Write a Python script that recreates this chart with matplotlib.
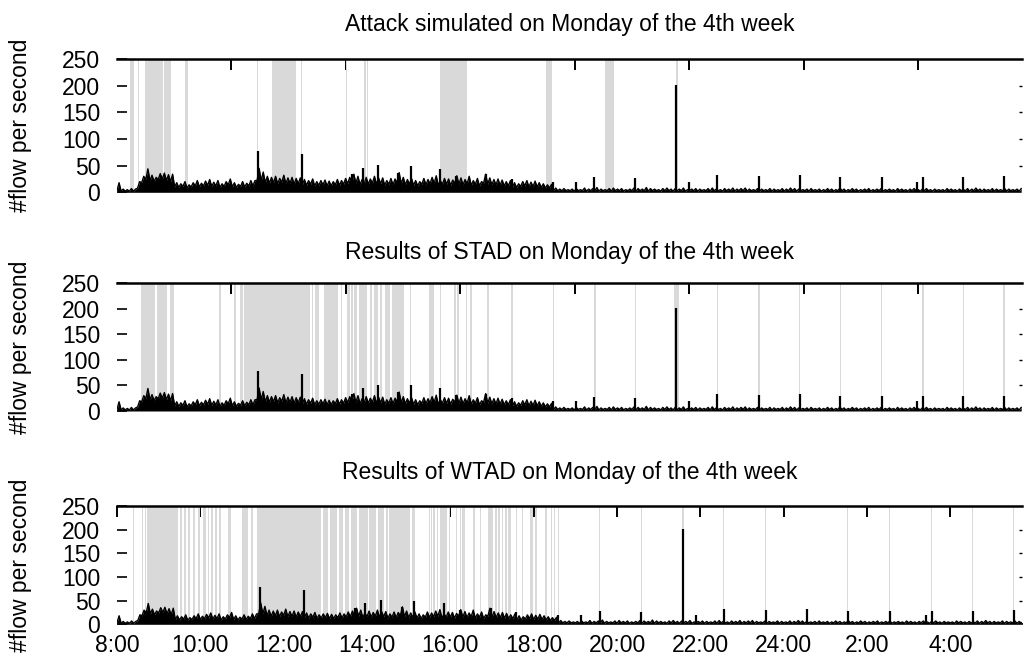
import numpy as np
import matplotlib.pyplot as plt

plt.rcParams['font.family'] = ['Liberation Sans', 'DejaVu Sans']

# flows per second, hours after 8:00, one bin every 6 minutes:
# flow_lo is the dense floor of each bin, flow_hi its highest value
bin_h = 0.1
flow_hi = [
    18, 6, 5, 7, 6, 20, 30, 44, 32, 28,
    35, 36, 33, 34, 18, 16, 20, 14, 18, 22,
    17, 21, 24, 19, 22, 16, 20, 25, 18, 15,
    20, 17, 22, 22, 45, 38, 30, 28, 30, 26,
    32, 27, 28, 26, 27, 24, 22, 25, 20, 22,
    23, 21, 20, 24, 22, 26, 28, 34, 30, 24,
    28, 25, 30, 27, 27, 22, 26, 25, 37, 28,
    24, 26, 22, 20, 26, 24, 28, 31, 22, 26,
    25, 23, 31, 27, 24, 30, 22, 26, 20, 34,
    27, 24, 25, 23, 20, 22, 18, 16, 20, 22,
    19, 21, 18, 16, 14, 15, 8, 6, 7, 5,
    6, 7, 5, 8, 6, 7, 9, 6, 5, 7,
    8, 6, 7, 5, 6, 8, 7, 6, 9, 7,
    6, 5, 7, 8, 6, 7, 6, 8, 5, 6,
    7, 6, 5, 7, 8, 6, 5, 7, 6, 8,
    6, 7, 8, 6, 5, 7, 6, 5, 7, 6,
    5, 7, 6, 8, 7, 6, 5, 6, 7, 5,
    6, 5, 7, 6, 5, 8, 6, 5, 7, 6,
    5, 6, 7, 5, 6, 7, 5, 6, 5, 7,
    6, 5, 6, 7, 5, 6, 7, 5, 6, 5,
    5, 7, 6, 5, 6, 5, 7, 6, 8, 6,
    6, 5, 7, 6, 5, 7, 6, 5, 6, 7,
]
flow_lo = [
    3, 2, 2, 2, 2, 8, 18, 24, 22, 20,
    24, 25, 22, 20, 10, 9, 11, 8, 10, 12,
    10, 12, 13, 11, 12, 9, 11, 14, 10, 9,
    11, 10, 12, 12, 22, 22, 18, 17, 18, 16,
    19, 16, 17, 15, 16, 14, 13, 15, 12, 13,
    14, 12, 12, 14, 13, 15, 16, 18, 17, 14,
    16, 15, 17, 15, 16, 13, 15, 14, 18, 16,
    14, 15, 13, 12, 15, 14, 16, 17, 13, 15,
    15, 13, 17, 15, 14, 16, 13, 15, 12, 17,
    15, 14, 14, 13, 12, 12, 10, 9, 11, 12,
    10, 11, 10, 9, 8, 8, 3, 3, 3, 3,
    3, 2, 3, 3, 2, 3, 3, 2, 3, 3,
    2, 3, 3, 2, 3, 3, 2, 3, 3, 2,
    3, 3, 2, 3, 3, 2, 3, 3, 2, 3,
    3, 2, 3, 3, 2, 3, 3, 2, 3, 3,
    2, 3, 3, 2, 3, 3, 2, 3, 3, 2,
    3, 3, 2, 3, 3, 2, 3, 3, 2, 3,
    3, 2, 3, 3, 2, 3, 3, 2, 3, 3,
    2, 3, 3, 2, 3, 3, 2, 3, 3, 2,
    3, 3, 2, 3, 3, 2, 3, 3, 2, 3,
    3, 2, 3, 3, 2, 3, 3, 2, 3, 3,
    2, 3, 3, 2, 3, 3, 2, 3, 3, 2,
]

spike_t = [3.42, 4.49, 5.71, 5.96, 6.33, 6.83, 7.14, 7.85, 8.23, 8.97,
           9.58, 10.59, 11.14, 11.58, 12.58, 13.58, 13.89, 14.57, 15.58,
           16.57, 17.55, 18.56, 19.42, 19.56, 20.54, 21.53]
spike_v = [78, 72, 34, 45, 51, 37, 50, 44, 31, 34,
           25, 20, 19, 28, 26, 201, 19, 33, 31,
           33, 29, 29, 19, 29, 29, 30]

# flagged periods (start, end) in hours after 8:00
attack_spans = [(0.32, 0.41), (0.50, 0.53), (0.68, 1.11), (1.13, 1.30), (1.65, 1.72),
                (3.40, 3.43), (3.76, 4.34), (4.46, 4.49), (5.56, 5.59), (6.00, 6.04),
                (6.06, 6.09), (7.84, 8.49), (10.41, 10.57), (11.84, 12.07), (13.58, 13.61)]
stad_spans = [(0.58, 0.92), (0.97, 1.21), (1.29, 1.38), (2.48, 2.52), (2.85, 2.88),
              (2.99, 3.05), (3.09, 4.68), (4.73, 4.76), (4.81, 4.91), (5.02, 5.37),
              (5.43, 5.47), (5.58, 5.66), (5.68, 5.72), (5.75, 5.82), (5.87, 6.08),
              (6.14, 6.20), (6.24, 6.34), (6.38, 6.44), (6.50, 6.63), (6.67, 6.97),
              (7.11, 7.14), (7.57, 7.69), (7.84, 7.86), (8.19, 8.23), (8.26, 8.31),
              (8.47, 8.50), (8.57, 8.62), (8.98, 9.02), (9.56, 9.62), (10.58, 10.62),
              (11.58, 11.62), (12.57, 12.61), (13.53, 13.64), (14.56, 14.60),
              (15.57, 15.61), (16.55, 16.59), (17.54, 17.58), (18.54, 18.58),
              (19.55, 19.59), (20.53, 20.57), (21.52, 21.56)]
wtad_spans = [(0.38, 0.41), (0.60, 0.63), (0.66, 0.70), (0.73, 1.46), (1.51, 1.56),
              (1.61, 1.66), (1.70, 1.75), (1.83, 1.86), (1.94, 1.99), (2.07, 2.14),
              (2.18, 2.22), (2.25, 2.30), (2.35, 2.39), (2.45, 2.50), (2.67, 2.73),
              (3.01, 3.15), (3.21, 3.26), (3.35, 4.89), (4.95, 5.07), (5.11, 5.27),
              (5.32, 5.43), (5.48, 5.57), (5.61, 5.75), (5.81, 6.02), (6.05, 6.22),
              (6.26, 6.41), (6.46, 6.50), (6.53, 7.03), (7.07, 7.15), (7.49, 7.51),
              (7.54, 7.56), (7.59, 7.64), (7.69, 7.71), (7.74, 7.91), (7.97, 7.99),
              (8.14, 8.17), (8.22, 8.26), (8.29, 8.34), (8.54, 8.60), (8.71, 8.74),
              (8.91, 9.03), (9.07, 9.11), (9.15, 9.19), (9.23, 9.27), (9.31, 9.36),
              (9.38, 9.45), (9.58, 9.61), (9.72, 9.75), (9.91, 9.98), (10.04, 10.07),
              (10.27, 10.32), (10.42, 10.45), (10.49, 10.52), (10.58, 10.60),
              (11.57, 11.59), (12.57, 12.60), (13.56, 13.61), (14.55, 14.57),
              (15.55, 15.57), (16.55, 16.57), (17.53, 17.55), (18.53, 18.55),
              (19.53, 19.55), (20.53, 20.55), (21.51, 21.53)]

titles = ['Attack simulated on Monday of the 4th week',
          'Results of STAD on Monday of the 4th week',
          'Results of WTAD on Monday of the 4th week']
hour_labels = ['8:00', '10:00', '12:00', '14:00', '16:00', '18:00',
               '20:00', '22:00', '24:00', '2:00', '4:00']
y_ticks = [0, 50, 100, 150, 200, 250]

# zigzag between floor and peak of each bin, filled down to zero
t = np.arange(len(flow_hi)) * bin_h
xs = np.column_stack([t, t + bin_h / 2]).ravel()
ys = np.column_stack([flow_lo, flow_hi]).ravel()

W, H = 1025, 658
fs = 16.5
fig = plt.figure(figsize=(W / 100, H / 100), dpi=100)

# (bottom px, top px, x max in hours)
panels = [(192.3, 59, 21.97), (411, 283, 21.97), (624.3, 506, 21.72)]
spans = [attack_spans, stad_spans, wtad_spans]
title_y = [24, 252, 472]

for k in range(3):
    bot, top, xmax = panels[k]
    ax = fig.add_axes([117 / W, 1 - bot / H, 905 / W, (bot - top) / H])
    for a, b in spans[k]:
        ax.axvspan(a, b, color='#d9d9d9', lw=0, zorder=1.7)
    ax.fill_between(xs, 0, ys, color='black', lw=0, zorder=3)
    ax.plot(xs, ys, color='black', lw=1.0, zorder=3)
    ax.vlines(spike_t, 0, spike_v, color='black', lw=1.6, zorder=3)
    ax.set_xlim(0, xmax)
    ax.set_ylim(0, 250)

    for s in ['left', 'right', 'bottom']:
        ax.spines[s].set_visible(False)
    ax.spines['top'].set_linewidth(1.8)
    ax.spines['top'].set_zorder(4)

    ax.set_yticks(y_ticks)
    ax.tick_params(axis='y', left=True, right=False, direction='in', length=7,
                   width=1.2, pad=12, labelsize=fs)
    sec = ax.secondary_yaxis('right')
    sec.set_yticks(y_ticks[1:-1])
    sec.tick_params(direction='in', length=2.5, width=1.0, labelright=False)
    sec.spines['right'].set_visible(False)

    if k < 2:
        # mirrored ticks every 10000 s
        ax.set_xticks(np.arange(10000, 80000, 10000) / 3600)
        ax.tick_params(axis='x', top=True, bottom=False, labelbottom=False,
                       direction='in', length=8, width=1.4)
    else:
        ax.set_xticks(np.arange(0, 22, 2), hour_labels)
        ax.tick_params(axis='x', top=True, bottom=False, labelbottom=True,
                       direction='in', length=8, width=1.4, pad=7, labelsize=fs)

    fig.text(569.5 / W, 1 - title_y[k] / H, titles[k], ha='center', va='center',
             fontsize=fs)
    fig.text(21 / W, 1 - (bot + top) / 2 / H, '#flow per second', rotation=90,
             ha='center', va='center', fontsize=fs)

fig.savefig('out.png', dpi=100)
